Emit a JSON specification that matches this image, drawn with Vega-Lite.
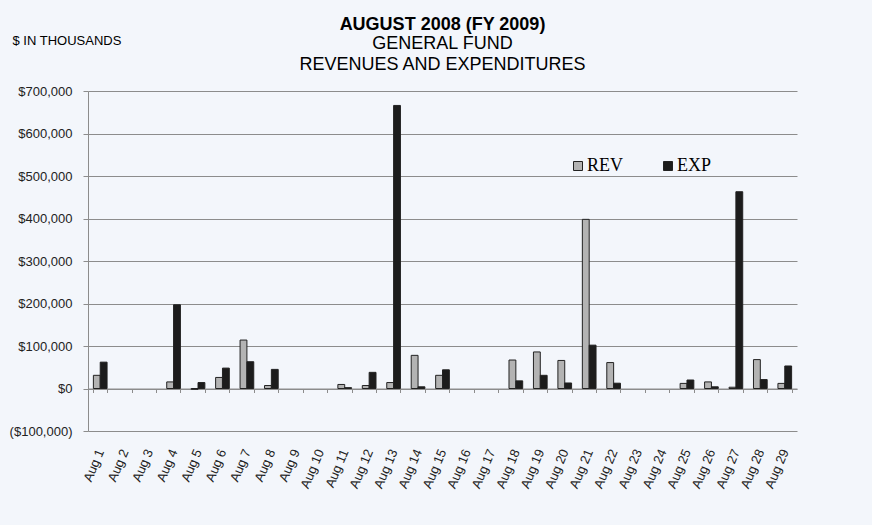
{
  "$schema": "https://vega.github.io/schema/vega-lite/v6.json",
  "autosize": {"type": "none"},
  "width": 709,
  "height": 340,
  "padding": {"left": 88, "top": 91, "right": 75, "bottom": 94},
  "background": "#f3f6fb",
  "title": {
    "text": "AUGUST 2008 (FY 2009)",
    "subtitle": ["GENERAL FUND", "REVENUES AND EXPENDITURES"],
    "anchor": "middle",
    "offset": 17,
    "dy": 57,
    "font": "Liberation Sans",
    "fontSize": 18,
    "fontWeight": "bold",
    "color": "#000000",
    "subtitleFont": "Liberation Sans",
    "subtitleFontSize": 18,
    "subtitleColor": "#000000",
    "subtitlePadding": 1,
    "subtitleLineHeight": 21
  },
  "config": {
    "view": {"stroke": null},
    "font": "Liberation Sans"
  },
  "data": {
    "values": [
      {"day": "Aug 1", "type": "REV", "value": 31000}, {"day": "Aug 1", "type": "EXP", "value": 62000},
      {"day": "Aug 2", "type": "REV", "value": 0}, {"day": "Aug 2", "type": "EXP", "value": 0},
      {"day": "Aug 3", "type": "REV", "value": 0}, {"day": "Aug 3", "type": "EXP", "value": 0},
      {"day": "Aug 4", "type": "REV", "value": 15500}, {"day": "Aug 4", "type": "EXP", "value": 197000},
      {"day": "Aug 5", "type": "REV", "value": -2000}, {"day": "Aug 5", "type": "EXP", "value": 14000},
      {"day": "Aug 6", "type": "REV", "value": 26000}, {"day": "Aug 6", "type": "EXP", "value": 48000},
      {"day": "Aug 7", "type": "REV", "value": 114000}, {"day": "Aug 7", "type": "EXP", "value": 63000},
      {"day": "Aug 8", "type": "REV", "value": 7000}, {"day": "Aug 8", "type": "EXP", "value": 45000},
      {"day": "Aug 9", "type": "REV", "value": 0}, {"day": "Aug 9", "type": "EXP", "value": 0},
      {"day": "Aug 10", "type": "REV", "value": 0}, {"day": "Aug 10", "type": "EXP", "value": 0},
      {"day": "Aug 11", "type": "REV", "value": 9500}, {"day": "Aug 11", "type": "EXP", "value": 2000},
      {"day": "Aug 12", "type": "REV", "value": 7000}, {"day": "Aug 12", "type": "EXP", "value": 38000},
      {"day": "Aug 13", "type": "REV", "value": 14000}, {"day": "Aug 13", "type": "EXP", "value": 666000},
      {"day": "Aug 14", "type": "REV", "value": 78000}, {"day": "Aug 14", "type": "EXP", "value": 4000},
      {"day": "Aug 15", "type": "REV", "value": 31000}, {"day": "Aug 15", "type": "EXP", "value": 44000},
      {"day": "Aug 16", "type": "REV", "value": 0}, {"day": "Aug 16", "type": "EXP", "value": 0},
      {"day": "Aug 17", "type": "REV", "value": 0}, {"day": "Aug 17", "type": "EXP", "value": 0},
      {"day": "Aug 18", "type": "REV", "value": 67000}, {"day": "Aug 18", "type": "EXP", "value": 18000},
      {"day": "Aug 19", "type": "REV", "value": 86000}, {"day": "Aug 19", "type": "EXP", "value": 31000},
      {"day": "Aug 20", "type": "REV", "value": 66000}, {"day": "Aug 20", "type": "EXP", "value": 13000},
      {"day": "Aug 21", "type": "REV", "value": 398000}, {"day": "Aug 21", "type": "EXP", "value": 102000},
      {"day": "Aug 22", "type": "REV", "value": 61000}, {"day": "Aug 22", "type": "EXP", "value": 12500},
      {"day": "Aug 23", "type": "REV", "value": 0}, {"day": "Aug 23", "type": "EXP", "value": 0},
      {"day": "Aug 24", "type": "REV", "value": 0}, {"day": "Aug 24", "type": "EXP", "value": 0},
      {"day": "Aug 25", "type": "REV", "value": 12000}, {"day": "Aug 25", "type": "EXP", "value": 20000},
      {"day": "Aug 26", "type": "REV", "value": 15500}, {"day": "Aug 26", "type": "EXP", "value": 4000},
      {"day": "Aug 27", "type": "REV", "value": 3000}, {"day": "Aug 27", "type": "EXP", "value": 463000},
      {"day": "Aug 28", "type": "REV", "value": 68000}, {"day": "Aug 28", "type": "EXP", "value": 21000},
      {"day": "Aug 29", "type": "REV", "value": 12000}, {"day": "Aug 29", "type": "EXP", "value": 53000}
    ]
  },
  "mark": {"type": "bar", "stroke": "#222222", "strokeWidth": 1},
  "encoding": {
    "x": {
      "field": "day",
      "type": "ordinal",
      "sort": null,
      "scale": {"paddingInner": 0.44, "paddingOuter": 0.22},
      "axis": {
        "title": null,
        "offset": -42.5,
        "tickBand": "extent",
        "tickExtra": true,
        "tickSize": 4,
        "tickColor": "#8c8c8c",
        "domainColor": "#8c8c8c",
        "labelAngle": -67,
        "labelAlign": "right",
        "labelBaseline": "middle",
        "labelPadding": 57,
        "labelFont": "Liberation Sans",
        "labelFontSize": 13,
        "labelColor": "#222222"
      }
    },
    "xOffset": {
      "field": "type",
      "sort": ["REV", "EXP"],
      "scale": {"paddingInner": 0, "paddingOuter": 0}
    },
    "y": {
      "field": "value",
      "type": "quantitative",
      "scale": {"domain": [-100000, 700000], "nice": false, "zero": false},
      "axis": {
        "values": [-100000, 0, 100000, 200000, 300000, 400000, 500000, 600000, 700000],
        "labelExpr": "datum.value < 0 ? '($' + format(-datum.value, ',') + ')' : '$' + format(datum.value, ',')",
        "labelFont": "Liberation Sans",
        "labelFontSize": 13,
        "labelColor": "#222222",
        "labelPadding": 11,
        "tickSize": 5,
        "tickColor": "#8c8c8c",
        "domainColor": "#8c8c8c",
        "gridColor": "#8c8c8c",
        "grid": true,
        "title": "$ IN THOUSANDS",
        "titleAngle": 0,
        "titleAlign": "left",
        "titleBaseline": "alphabetic",
        "titleX": -76,
        "titleY": -47,
        "titleFont": "Liberation Sans",
        "titleFontSize": 13,
        "titleFontWeight": "normal",
        "titleColor": "#000000"
      }
    },
    "strokeOpacity": {
      "condition": {"test": "datum.value === 0", "value": 0},
      "value": 1
    },
    "color": {
      "field": "type",
      "type": "nominal",
      "sort": ["REV", "EXP"],
      "scale": {"domain": ["REV", "EXP"], "range": ["#b3b3b3", "#1c1c1c"]},
      "legend": {
        "title": null,
        "orient": "none",
        "direction": "horizontal",
        "legendX": 481,
        "legendY": 66,
        "symbolType": "square",
        "symbolSize": 81,
        "symbolStrokeColor": "#222222",
        "symbolStrokeWidth": 1,
        "labelFont": "Liberation Serif",
        "labelFontSize": 18,
        "labelColor": "#000000",
        "labelOffset": 0,
        "columnPadding": 36
      }
    }
  }
}
